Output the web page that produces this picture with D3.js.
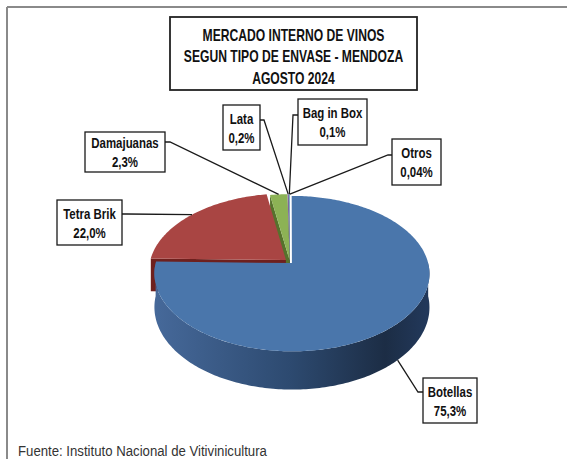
<!DOCTYPE html>
<html>
<head>
<meta charset="utf-8">
<title>Mercado interno de vinos</title>
<script src="https://d3js.org/d3.v7.min.js"></script>
<style>
  body { margin: 0; background: #fff; }
  svg text { font-family: "Liberation Sans", Arial, sans-serif; }
</style>
</head>
<body>
<script>
// data
var categories = ["Botellas", "Tetra Brik", "Damajuanas", "Lata", "Bag in Box", "Otros"];
var values = [75.3, 22.0, 2.3, 0.2, 0.1, 0.04];
var valueLabels = ["75,3%", "22,0%", "2,3%", "0,2%", "0,1%", "0,04%"];
var titleLines = ["MERCADO INTERNO DE VINOS", "SEGUN TIPO DE ENVASE - MENDOZA", "AGOSTO 2024"];
var source = "Fuente: Instituto Nacional de Vitivinicultura";

// look
var topColors = ["#4a76ab", "#a94543", "#8cb255", "#7d66a3", "#4aa5c0", "#f0913f"];
var wallColors = ["url(#gBlue)", "#6e201e", "#56722c", "#4e3e6a", "#2d6e80", "#a85d22"];
var explode = [0.02, 0.04, 0.015, 0.015, 0.015, 0.015];

// label boxes (x, y, w, h), side where the leader attaches, attach y, stub end x
var boxes = [
  {x: 423, y: 378, w: 54, h: 45, side: "left",  ay: 392, bx: 418},
  {x: 57,  y: 200, w: 65, h: 45, side: "right", ay: 214, bx: 127},
  {x: 85,  y: 132, w: 80, h: 40, side: "right", ay: 142, bx: 170},
  {x: 223, y: 105, w: 37, h: 45, side: "right", ay: 120, bx: 264},
  {x: 298, y: 99,  w: 69, h: 46, side: "left",  ay: 115, bx: 293},
  {x: 392, y: 139, w: 49, h: 46, side: "left",  ay: 155, bx: 388}
];

var W = 567, H = 459;
var CX = 290, CY = 262, RX = 136, RY = 76, K = 0.135, DEPTH = 33;

var svg = d3.select("body").append("svg")
    .attr("width", W)
    .attr("height", H);

var defs = svg.append("defs");
var g = defs.append("linearGradient").attr("id", "gBlue")
    .attr("gradientUnits", "userSpaceOnUse")
    .attr("x1", CX - RX).attr("x2", CX + RX).attr("y1", 0).attr("y2", 0);
g.append("stop").attr("offset", 0).attr("stop-color", "#46699a");
g.append("stop").attr("offset", 0.5).attr("stop-color", "#2d4a70");
g.append("stop").attr("offset", 0.85).attr("stop-color", "#1c2d45");
g.append("stop").attr("offset", 1).attr("stop-color", "#22385a");

// narrow text: normal font squeezed horizontally
function addText(x, y, str, size, sx, weight, fill) {
  return svg.append("text")
    .attr("transform", "translate(" + x + "," + y + ") scale(" + sx + ",1)")
    .attr("text-anchor", "middle")
    .style("font-size", size + "px")
    .style("font-weight", weight)
    .attr("fill", fill)
    .text(str);
}

// frame of the screenshot
svg.append("line").attr("x1", 7).attr("y1", 7).attr("x2", W).attr("y2", 7)
    .attr("stroke", "#8a8a8a").attr("stroke-width", 2);
svg.append("line").attr("x1", 7).attr("y1", 7).attr("x2", 7).attr("y2", H)
    .attr("stroke", "#8a8a8a").attr("stroke-width", 2);

// perspective projection of the disc
function P(u, v, z, o) {
  var uu = u + o[0], vv = v + o[1];
  var s = 1 / (1 - K * vv);
  return [CX + RX * uu * s, CY + (RY * vv + DEPTH * z) * s];
}
function rim(a, z, o) { return P(Math.sin(a), -Math.cos(a), z, o); }
function arcPts(a0, a1, z, o) {
  var n = Math.max(2, Math.ceil((a1 - a0) / (Math.PI / 180)));
  var pts = [];
  for (var i = 0; i <= n; i++) pts.push(rim(a0 + (a1 - a0) * i / n, z, o));
  return pts;
}

var line = d3.line();
var arcs = d3.pie().sort(null).value(function (d) { return d; })(values);

arcs.forEach(function (d, i) {
  var mid = (d.startAngle + d.endAngle) / 2;
  d.off = [explode[i] * Math.sin(mid), -explode[i] * Math.cos(mid)];
  d.mid = mid;
});

var pie = svg.append("g");

function drawWalls(d, i) {
  var o = d.off, a0 = d.startAngle, a1 = d.endAngle;
  if (Math.sin(a0) < 0) {
    pie.append("path").attr("d", line([P(0, 0, 0, o), rim(a0, 0, o), rim(a0, 1, o), P(0, 0, 1, o)]) + "Z")
      .attr("fill", wallColors[i]);
  }
  if (Math.sin(a1) > 0) {
    pie.append("path").attr("d", line([P(0, 0, 0, o), rim(a1, 0, o), rim(a1, 1, o), P(0, 0, 1, o)]) + "Z")
      .attr("fill", wallColors[i]);
  }
  var lo = Math.max(a0, Math.PI / 2), hi = Math.min(a1, 3 * Math.PI / 2);
  if (lo < hi) {
    var pts = arcPts(lo, hi, 0, d.off).concat(arcPts(lo, hi, 1, d.off).reverse());
    pie.append("path").attr("d", line(pts) + "Z").attr("fill", wallColors[i]);
  }
}
function drawTop(d, i) {
  var pts = [P(0, 0, 0, d.off)].concat(arcPts(d.startAngle, d.endAngle, 0, d.off));
  pie.append("path").attr("d", line(pts) + "Z").attr("fill", topColors[i]);
}

// back slices first, the big front slice last
for (var i = arcs.length - 1; i >= 1; i--) drawWalls(arcs[i], i);
for (var i = arcs.length - 1; i >= 1; i--) drawTop(arcs[i], i);
drawWalls(arcs[0], 0);
drawTop(arcs[0], 0);

// leader lines and label boxes
arcs.forEach(function (d, i) {
  var b = boxes[i];
  var z = -Math.cos(d.mid) > 0 ? 1 : 0;
  var anchor = rim(d.mid, z, d.off);
  var ex = b.side === "left" ? b.x : b.x + b.w;
  svg.append("path")
    .attr("d", line([anchor, [b.bx, b.ay], [ex, b.ay]]))
    .attr("fill", "none").attr("stroke", "#1a1a1a").attr("stroke-width", 1.3);
  svg.append("rect")
    .attr("x", b.x).attr("y", b.y).attr("width", b.w).attr("height", b.h)
    .attr("fill", "#fff").attr("stroke", "#1a1a1a").attr("stroke-width", 1.3);
  var cy = b.y + b.h / 2;
  addText(b.x + b.w / 2, cy - 4, categories[i], 14.5, 0.79, "bold", "#111");
  addText(b.x + b.w / 2, cy + 15, valueLabels[i], 14.5, 0.79, "bold", "#111");
});

// title
svg.append("rect").attr("x", 170).attr("y", 17).attr("width", 247).attr("height", 73)
  .attr("fill", "#fff").attr("stroke", "#222").attr("stroke-width", 1.8);
titleLines.forEach(function (t, k) {
  addText(293.5, 40.5 + k * 21.5, t, 16.5, 0.735, "bold", "#111");
});

addText(18, 456, source, 15, 0.88, "normal", "#333").attr("text-anchor", "start");
</script>
</body>
</html>
